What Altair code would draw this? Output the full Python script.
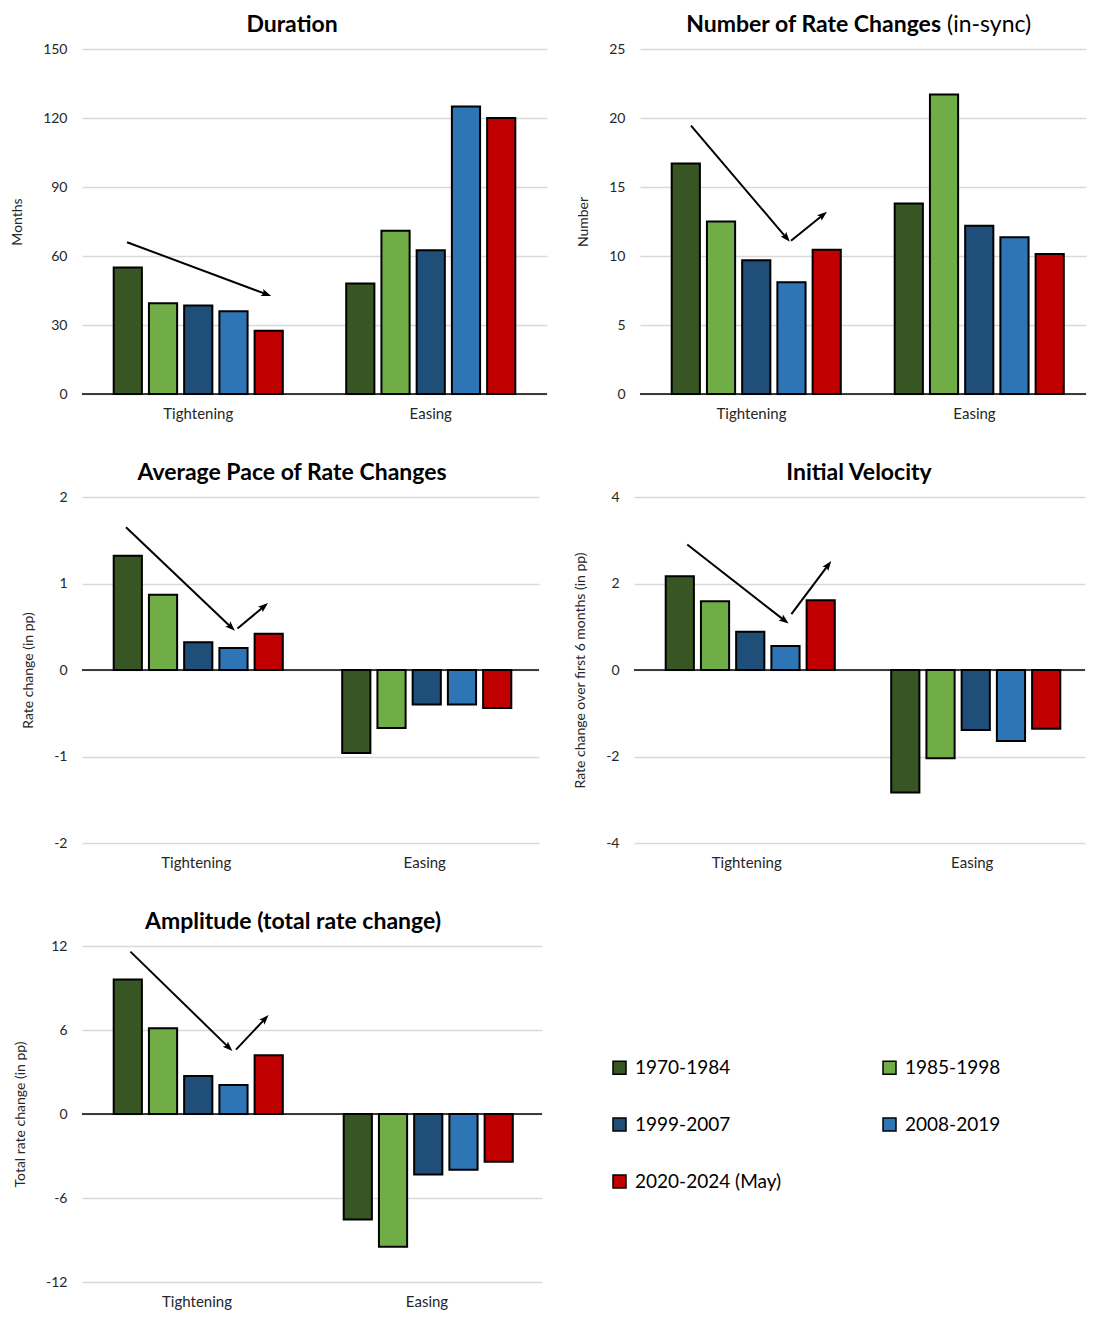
import math
import altair as alt
import pandas as pd

# ---------------- data ----------------
PERIODS = ["1970-1984", "1985-1998", "1999-2007", "2008-2019", "2020-2024 (May)"]
REGIMES = ["Tightening", "Easing"]
COLORS = ["#375623", "#70AD47", "#1F4E79", "#2E75B6", "#C00000"]

DURATION_T = [55, 39.5, 38.5, 36, 27.5]
DURATION_E = [48, 71, 62.5, 125, 120]

NUMBER_T = [16.7, 12.5, 9.7, 8.1, 10.45]
NUMBER_E = [13.8, 21.7, 12.2, 11.35, 10.15]

PACE_T = [1.32, 0.87, 0.32, 0.255, 0.42]
PACE_E = [-0.96, -0.67, -0.40, -0.40, -0.44]

VELOCITY_T = [2.17, 1.59, 0.885, 0.554, 1.615]
VELOCITY_E = [-2.83, -2.04, -1.39, -1.64, -1.36]

AMPLITUDE_T = [9.6, 6.13, 2.72, 2.07, 4.19]
AMPLITUDE_E = [-7.53, -9.49, -4.33, -3.99, -3.41]

FONT = "Lato"
TXT = "#262626"
ARROW_PATH = "M0,-1L0.7,0.9L0,0.5L-0.7,0.9Z"
LABEL_EXPR = ("datum.value < 0 ? '-' + format(-datum.value, 'd') "
              ": format(datum.value, 'd')")


def frame(t_vals, e_vals):
    rows = []
    for reg, vals in zip(REGIMES, [t_vals, e_vals]):
        for p, v in zip(PERIODS, vals):
            rows.append({"regime": reg, "period": p, "value": v})
    return pd.DataFrame(rows)


def panel(titles, ylabel, t_vals, e_vals, domain, ticks, width, height,
          arrows, legend=None):
    df = frame(t_vals, e_vals)
    one = alt.Chart(pd.DataFrame({"k": [0]}))
    color_kw = dict(sort=PERIODS, scale=alt.Scale(domain=PERIODS, range=COLORS))
    if legend is None:
        color = alt.Color("period:N", legend=None, **color_kw)
    else:
        color = alt.Color("period:N", legend=legend, **color_kw)
    bars = alt.Chart(df).mark_bar(stroke="black", strokeWidth=2).encode(
        x=alt.X("regime:N", sort=REGIMES, title=None,
                scale=alt.Scale(paddingInner=0, paddingOuter=0),
                axis=alt.Axis(labelAngle=0)),
        xOffset=alt.XOffset("period:N", sort=PERIODS,
                            scale=alt.Scale(paddingInner=0.2, paddingOuter=0.9)),
        y=alt.Y("value:Q", title=ylabel,
                scale=alt.Scale(domain=domain, nice=False, zero=False),
                axis=alt.Axis(values=ticks, labelExpr=LABEL_EXPR)),
        color=color,
    )
    zero = one.mark_rule(color="black", strokeWidth=1.5).encode(y=alt.datum(0))
    layers = [bars, zero]
    ppu = height / (domain[1] - domain[0])
    for (x1, y1, x2, y2) in arrows:
        dx = x2 - x1
        dy = -(y2 - y1) * ppu
        ang = math.degrees(math.atan2(dx, -dy)) % 360
        L = math.hypot(dx, dy)
        back = 4.0
        cx = x2 - dx / L * back
        cy = y2 + (dy / L * back) / ppu
        layers.append(one.mark_rule(color="black", strokeWidth=2).encode(
            x=alt.value(x1), x2=alt.value(cx), y=alt.datum(y1), y2=alt.datum(cy)))
        layers.append(one.mark_point(shape=ARROW_PATH, filled=True, size=110,
                                     color="black", opacity=1, strokeWidth=0,
                                     angle=ang).encode(
            x=alt.value(cx), y=alt.datum(cy)))
    for (txt, cx, align, weight) in titles:
        layers.append(alt.Chart(pd.DataFrame({"t": [txt]})).mark_text(
            font=FONT, fontSize=23, fontWeight=weight, align=align,
            baseline="alphabetic", color="black").encode(
            x=alt.value(cx), y=alt.value(-17), text="t:N"))
    return alt.layer(*layers).properties(width=width, height=height)


p1 = panel([("Duration", 210, "center", "bold")], "Months",
           DURATION_T, DURATION_E, [0, 150], [0, 30, 60, 90, 120, 150],
           465, 345, [(45, 66, 188, 42.8)])

p2 = panel([("Number of Rate Changes", 301, "right", "bold"),
            ("(in-sync)", 307, "left", "normal")], "Number",
           NUMBER_T, NUMBER_E, [0, 25], [0, 5, 10, 15, 20, 25],
           446, 345, [(51, 19.45, 149, 11.1), (151, 11.1, 186, 13.15)])

p3 = panel([("Average Pace of Rate Changes", 210, "center", "bold")], "Rate change (in pp)",
           PACE_T, PACE_E, [-2, 2], [-2, -1, 0, 1, 2],
           457, 346, [(44, 1.65, 152, 0.463), (155.5, 0.48, 185, 0.764)])

p4 = panel([("Initial Velocity", 225, "center", "bold")],
           "Rate change over first 6 months (in pp)",
           VELOCITY_T, VELOCITY_E, [-4, 4], [-4, -2, 0, 2, 4],
           451, 346, [(53.2, 2.9, 153.6, 1.09), (157.4, 1.29, 196.5, 2.5)])

legend = alt.Legend(orient="none", legendX=528, legendY=112, columns=2,
                    direction="horizontal",
                    symbolType="square", symbolSize=169, symbolStrokeColor="black",
                    symbolStrokeWidth=1.5, symbolOpacity=1, labelFontSize=19,
                    labelFont=FONT, labelColor="black", labelOffset=6,
                    rowPadding=37, columnPadding=98, title=None, padding=0)

p5 = panel([("Amplitude (total rate change)", 211, "center", "bold")],
           "Total rate change (in pp)",
           AMPLITUDE_T, AMPLITUDE_E, [-12, 12], [-12, -6, 0, 6, 12],
           460, 336, [(48.4, 11.6, 149.5, 4.56), (154, 4.6, 185.7, 7.0)],
           legend=legend)

row1 = alt.hconcat(p1, p2, spacing=28).resolve_scale(color="independent")
row2 = alt.hconcat(p3, p4, spacing=33).resolve_scale(color="independent")

chart = alt.vconcat(row1, row2, p5, spacing=41).resolve_scale(
    color="independent"
).properties(
    padding={"left": 2, "top": 6, "right": 0, "bottom": 5}
).configure(
    font=FONT
).configure_view(
    strokeWidth=0
).configure_axis(
    labelFont=FONT, titleFont=FONT, titleFontWeight="normal",
    labelColor=TXT, titleColor=TXT, labelFontSize=14, titleFontSize=14,
    gridColor="#D9D9D9", gridWidth=1.5, domain=False, ticks=False, tickSize=0,
    labelPadding=15, titlePadding=18,
).configure_axisX(
    labelPadding=12, labelFontSize=15, grid=False
)

chart.save("out.html", embed_options={"renderer": "svg", "actions": False})
